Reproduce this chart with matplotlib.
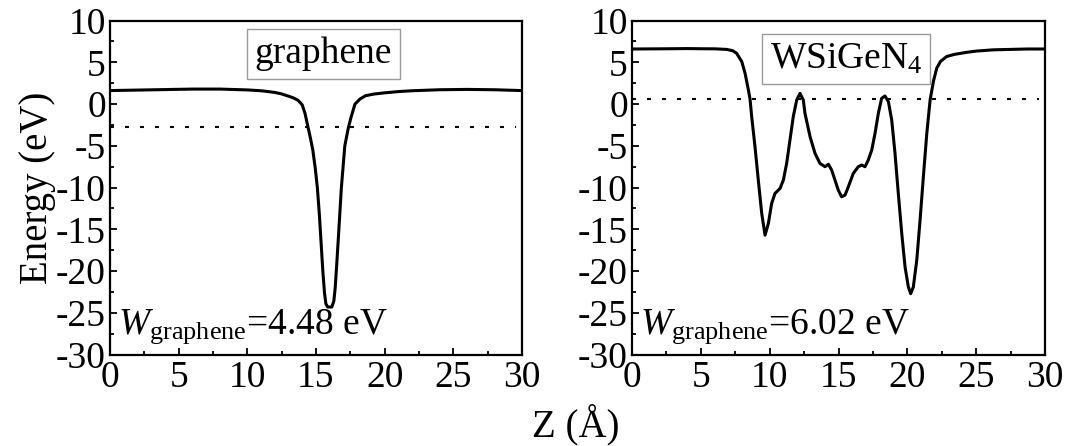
import matplotlib
matplotlib.use("Agg")
import matplotlib.pyplot as plt
from matplotlib.ticker import MultipleLocator

plt.rcParams['font.family'] = ['Liberation Serif', 'DejaVu Serif']
plt.rcParams['mathtext.fontset'] = 'custom'
plt.rcParams['mathtext.rm'] = 'Liberation Serif'
plt.rcParams['mathtext.it'] = 'Liberation Serif:italic'
plt.rcParams['mathtext.bf'] = 'Liberation Serif:bold'
plt.rcParams['axes.unicode_minus'] = False

# ---- data ----
z_graphene = [0, 2, 4, 6, 8, 10, 11, 12, 12.5, 13, 13.35, 13.7, 14.0, 14.2, 14.4,
              14.6, 14.77, 14.95, 15.1, 15.25, 15.38, 15.5, 15.62, 15.72, 15.85, 16.0,
              16.15, 16.3, 16.4, 16.5, 16.65, 16.85, 17.0, 17.1, 17.35, 17.55,
              17.84, 18.2, 18.6, 19.2, 20, 21, 22, 24, 26, 28, 30]
e_graphene = [1.62, 1.68, 1.74, 1.80, 1.80, 1.70, 1.60, 1.40, 1.22, 0.95, 0.75, 0.45, -0.1, -1.1, -2.6,
              -4.1, -5.5, -7.7, -10.0, -13.3, -16.8, -20.0, -22.6, -23.9, -24.3, -24.3,
              -24.3, -23.6, -22.0, -19.5, -15.5, -10.0, -7.0, -5.0, -2.9, -1.6,
              0.0, 0.6, 1.0, 1.2, 1.35, 1.5, 1.6, 1.72, 1.76, 1.72, 1.62]
fermi_graphene = -2.78

z_wsigen = [0, 2, 4, 5, 6, 6.88, 7.3, 7.6, 7.97, 8.21, 8.45, 8.57, 8.69, 8.93, 9.17, 9.42,
            9.66, 9.90, 10.14, 10.38, 10.75, 10.99, 11.23, 11.47, 11.71, 11.96, 12.2,
            12.44, 12.56, 12.93, 13.29, 13.65, 14.02, 14.26, 14.5, 14.74, 14.98, 15.22,
            15.47, 15.71, 16.07, 16.43, 16.68, 16.92, 17.16, 17.41, 17.65, 17.89, 18.13,
            18.37, 18.62, 18.86, 19.1, 19.34, 19.59, 19.83, 20.07, 20.24, 20.43, 20.68,
            20.92, 21.16, 21.41, 21.65, 21.9, 22.13, 22.4, 22.85, 23.4, 24.3, 25, 26.24,
            28.7, 30]
e_wsigen = [6.6, 6.62, 6.65, 6.63, 6.62, 6.55, 6.4, 6.08, 5.08, 3.69, 1.69, 0.61, -1.5, -5.1,
            -9.1, -13.1, -15.7, -14.3, -11.9, -10.7, -10.1, -9.1, -7.1, -4.3, -1.5, 0.49,
            1.29, 0.49, -1.1, -3.9, -5.9, -7.1, -7.5, -7.2, -7.9, -9.1, -10.3, -11.1,
            -10.9, -9.9, -8.3, -7.5, -7.3, -7.5, -6.7, -5.5, -3.5, -1.1, 0.7, 0.97,
            0.29, -1.9, -5.9, -10.7, -15.5, -19.5, -21.9, -22.7, -21.9, -18.7, -13.9,
            -8.7, -3.5, 0.5, 2.8, 4.3, 5.1, 5.7, 5.95, 6.2, 6.35, 6.5, 6.6, 6.6]
fermi_wsigen = 0.6

titles = ['graphene', r'WSiGeN$_4$']
wlabels = [r'$W_{\mathrm{graphene}}$=4.48 eV', r'$W_{\mathrm{graphene}}$=6.02 eV']
xticks = [0, 5, 10, 15, 20, 25, 30]
yticks = [-30, -25, -20, -15, -10, -5, 0, 5, 10]

fig = plt.figure(figsize=(10.7, 4.46), dpi=100)
ax1 = fig.add_axes([0.1028, 0.2049, 0.3850, 0.7489])
ax2 = fig.add_axes([0.5907, 0.2049, 0.3860, 0.7489])

series = [(z_graphene, e_graphene, fermi_graphene), (z_wsigen, e_wsigen, fermi_wsigen)]
for ax, (z, e, ef), title, wl in zip([ax1, ax2], series, titles, wlabels):
    ax.plot(z, e, color='black', lw=2.2, solid_joinstyle='round')
    ax.axhline(ef, xmin=0.0, xmax=0.985, color='black', lw=1.5, linestyle=(0, (1.9, 5.3)))
    ax.set_xlim(0, 30)
    ax.set_ylim(-30, 10)
    ax.set_xticks(xticks)
    ax.set_yticks(yticks)
    ax.xaxis.set_minor_locator(MultipleLocator(2.5))
    ax.yaxis.set_minor_locator(MultipleLocator(2.5))
    ax.tick_params(which='both', direction='in', top=False, right=False, labelsize=27,
                   width=1.3)
    ax.tick_params(which='major', length=5)
    ax.tick_params(which='minor', length=3)
    ax.tick_params(axis='y', pad=3)
    ax.tick_params(axis='x', pad=4)
    for s in ax.spines.values():
        s.set_linewidth(1.6)
    ax.text(15.55, 6.0 if title == 'graphene' else 5.4, title, fontsize=27,
            ha='center', va='center',
            bbox=dict(boxstyle='square,pad=0.2', facecolor='white', edgecolor='#9a9a9a', lw=1.0))
    ax.text(0.55, -27.45, wl, fontsize=27, ha='left', va='baseline')

ax1.set_ylabel('Energy (eV)', fontsize=28, labelpad=0)
fig.text(0.538, 0.048, 'Z (Å)', fontsize=28, ha='center', va='center')

fig.savefig('out.png', dpi=100)
